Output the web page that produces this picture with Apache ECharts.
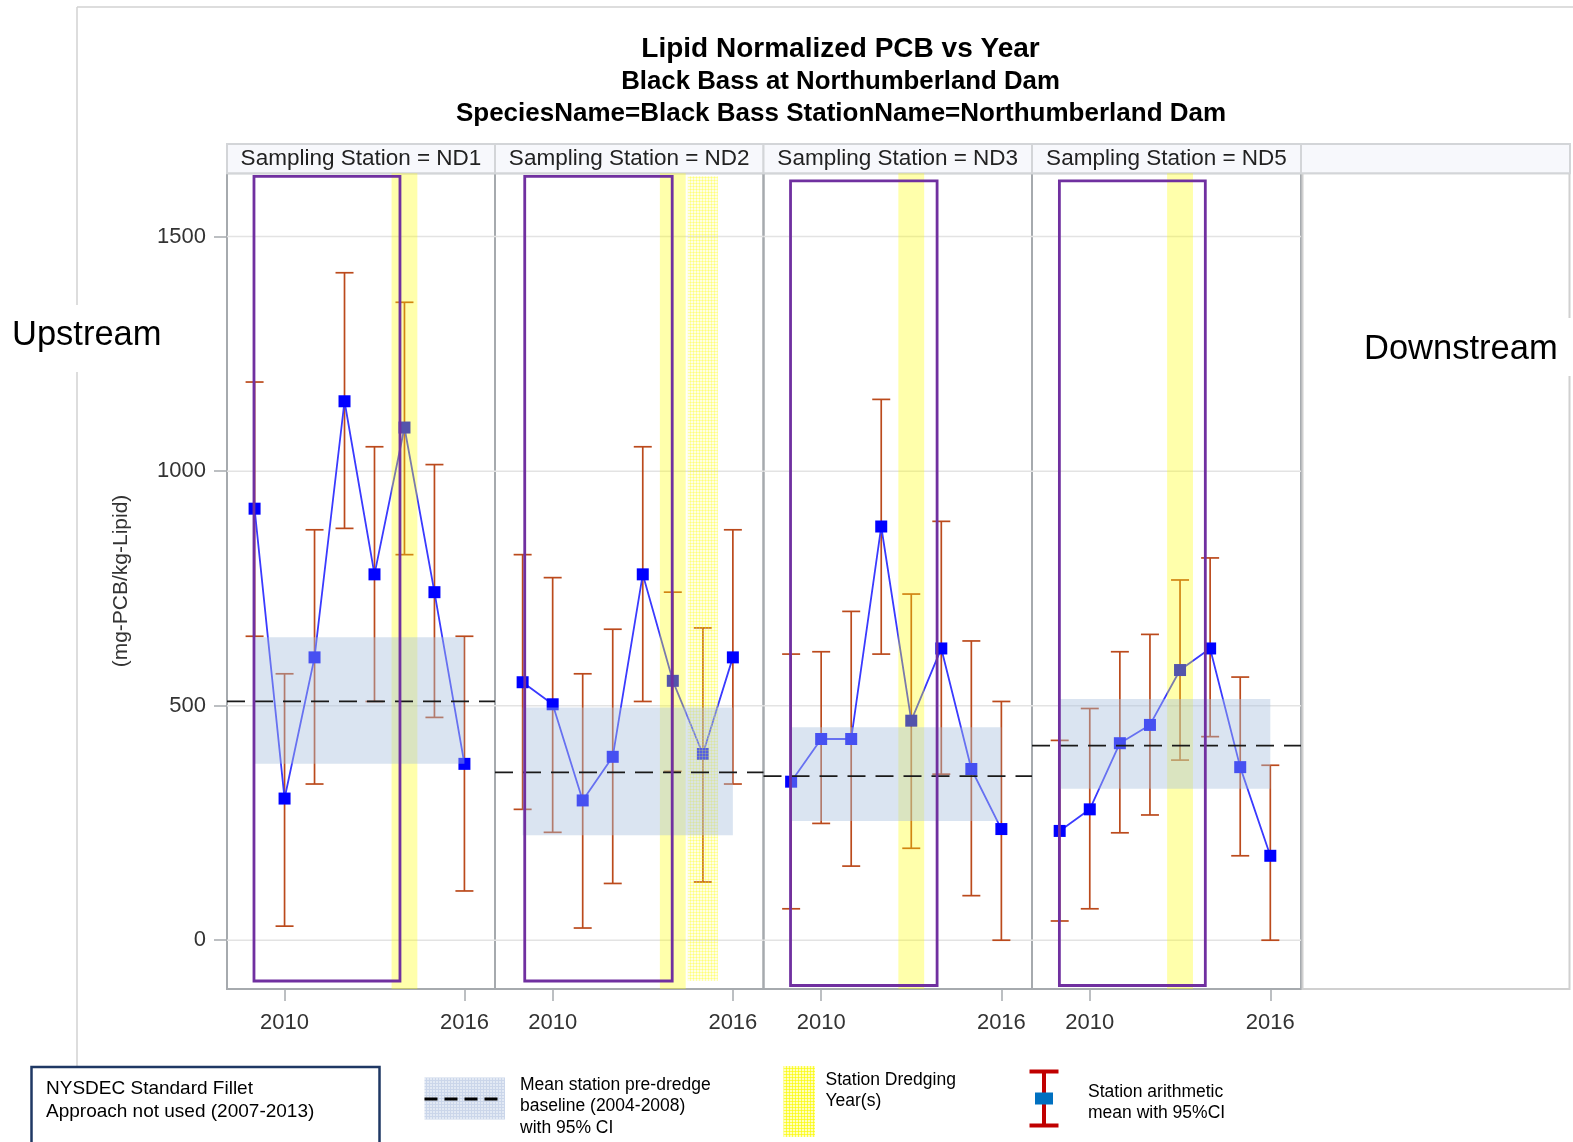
<!DOCTYPE html>
<html><head><meta charset="utf-8">
<script src="https://cdn.jsdelivr.net/npm/echarts@6/dist/echarts.min.js"></script>
<style>html,body{margin:0;padding:0;background:#fff}#c{width:1573px;height:1142px}</style>
</head><body><div id="c"></div><script>
// ---------------- DATA ----------------
const stations = ['ND1', 'ND2', 'ND3', 'ND5'];
const years = [2009, 2010, 2011, 2012, 2013, 2014, 2015, 2016];
const yTicks = [0, 500, 1000, 1500];
const xTicks = [2010, 2016];

const meanND1 = [920, 302, 603, 1149, 780, 1093, 742, 376];
const lowND1  = [648, 30, 333, 878, 509, 822, 475, 105];
const highND1 = [1190, 568, 875, 1423, 1052, 1360, 1014, 648];

const meanND2 = [550, 503, 298, 391, 780, 553, 397, 603];
const lowND2  = [279, 230, 26, 121, 509, 360, 124, 333];
const highND2 = [822, 773, 568, 663, 1052, 742, 666, 875];

const meanND3 = [338, 429, 429, 882, 468, 622, 365, 237];
const lowND3  = [67, 249, 158, 610, 196, 354, 95, 0];
const highND3 = [610, 615, 701, 1153, 738, 893, 638, 509];

const meanND5 = [233, 279, 420, 459, 576, 622, 369, 180];
const lowND5  = [41, 67, 229, 267, 384, 434, 180, 0];
const highND5 = [426, 494, 615, 652, 768, 815, 561, 373];

// pre-dredge baseline (2004-2008) mean with 95% CI, drawn over 2009-2016
const baselineMean = [509, 358, 350, 415];
const baselineLow  = [376, 224, 254, 323];
const baselineHigh = [646, 496, 454, 514];
const baselineSpan = [2009, 2016];

// dredging years per station (solid) and additional (hatched)
const dredgeYears = [[2014], [2014], [2013], [2013]];
const dredgeHatchYears = [[], [2015], [], []];

// "NYSDEC Standard Fillet approach not used" box, year span per station
const fishBoxStart = [2008.98, 2009.07, 2008.98, 2008.99];
const fishBoxEnd   = [2013.85, 2013.98, 2013.86, 2013.84];

const means = [meanND1, meanND2, meanND3, meanND5];
const lows = [lowND1, lowND2, lowND3, lowND5];
const highs = [highND1, highND2, highND3, highND5];

// ---------------- STYLE / LAYOUT ----------------
const FONT = '"Liberation Sans", Arial, sans-serif';
const panelLeft = [227, 495, 763.5, 1032];
const panelWidth = [268, 268.5, 268.5, 269];
const plotTop = 173.3, plotHeight = 815.7;
const xMin = 2008.08, xMax = 2017.02, yMin = -104, yMax = 1635;
const boxInsets = [[3, 8], [3, 8], [7.5, 3.5], [7.5, 3.5]];
const errColor = '#bb4a1c';

function makePattern(base, line, size) {
  const c = document.createElement('canvas');
  c.width = size; c.height = size;
  const g = c.getContext('2d');
  g.fillStyle = base; g.fillRect(0, 0, size, size);
  g.fillStyle = line; g.fillRect(0, 0, size, 1); g.fillRect(0, 0, 1, size);
  return c;
}
const hatchCanvas = makePattern('rgba(255,255,0,0.10)', 'rgba(255,255,0,0.28)', 3);
const legendYellow = makePattern('rgba(255,255,110,0.45)', 'rgba(250,250,0,0.65)', 3);
const legendBlue = makePattern('#e2e9f4', '#cbd6ea', 3);

const grids = [], xAxes = [], yAxes = [], series = [];
stations.forEach((st, i) => {
  grids.push({left: panelLeft[i], top: plotTop, width: panelWidth[i], height: plotHeight,
    show: true, borderColor: '#a6aaae', borderWidth: 2, backgroundColor: 'transparent', containLabel: false});
  xAxes.push({type: 'value', gridIndex: i, min: xMin, max: xMax, position: 'bottom',
    axisLine: {show: false, onZero: false}, splitLine: {show: false},
    axisTick: {show: true, customValues: xTicks, length: 12, lineStyle: {color: '#a6aaae', width: 1.5}},
    axisLabel: {show: true, customValues: xTicks, fontSize: 22, color: '#333', fontFamily: FONT, margin: 23,
      formatter: v => String(Math.round(v))}});
  yAxes.push({type: 'value', gridIndex: i, min: yMin, max: yMax, position: 'left',
    axisLine: {show: false, onZero: false}, splitLine: {show: false},
    axisTick: {show: i === 0, customValues: yTicks, length: 13, lineStyle: {color: '#a6aaae', width: 1.5}},
    axisLabel: {show: i === 0, customValues: yTicks, fontSize: 22, color: '#333', fontFamily: FONT, margin: 21,
      formatter: v => String(Math.round(v))}});

  const axisRef = {xAxisIndex: i, yAxisIndex: i};
  // grid lines
  series.push(Object.assign({type: 'custom', z: 1, silent: true, data: yTicks.map(v => [2012, v]),
    renderItem: (p, api) => {
      const cs = p.coordSys; const y = api.coord([2012, api.value(1)])[1];
      return {type: 'line', shape: {x1: cs.x, y1: y, x2: cs.x + cs.width, y2: y}, style: {stroke: '#e3e3e3', lineWidth: 1.5}};
    }}, axisRef));
  // error bars
  series.push(Object.assign({type: 'custom', z: 2, silent: true,
    data: years.map((y, k) => [y, lows[i][k], highs[i][k]]),
    renderItem: (p, api) => {
      const x = api.value(0);
      const a = api.coord([x, api.value(1)]), b = api.coord([x, api.value(2)]);
      const hw = 9, s = {stroke: errColor, lineWidth: 1.7};
      return {type: 'group', children: [
        {type: 'line', shape: {x1: a[0], y1: a[1], x2: b[0], y2: b[1]}, style: s},
        {type: 'line', shape: {x1: a[0] - hw, y1: a[1], x2: a[0] + hw, y2: a[1]}, style: s},
        {type: 'line', shape: {x1: b[0] - hw, y1: b[1], x2: b[0] + hw, y2: b[1]}, style: s}]};
    }}, axisRef));
  // mean line with markers
  series.push(Object.assign({type: 'line', z: 3, silent: true,
    data: years.map((y, k) => [y, means[i][k]]),
    symbol: 'rect', symbolSize: 12, showSymbol: true,
    itemStyle: {color: '#0000ff'}, lineStyle: {color: '#3a3aff', width: 1.8}}, axisRef));
  // dredging years (solid)
  series.push(Object.assign({type: 'custom', z: 4, silent: true, data: dredgeYears[i].map(y => [y, 0]),
    renderItem: (p, api) => {
      const cs = p.coordSys; const y = api.value(0);
      const a = api.coord([y - 0.43, 0])[0], b = api.coord([y + 0.43, 0])[0];
      return {type: 'rect', shape: {x: a, y: cs.y, width: b - a, height: cs.height}, style: {fill: 'rgba(255,255,0,0.33)'}};
    }}, axisRef));
  // dredging years (hatched)
  series.push(Object.assign({type: 'custom', z: 4, silent: true, data: dredgeHatchYears[i].map(y => [y, 0]),
    renderItem: (p, api) => {
      const cs = p.coordSys; const y = api.value(0);
      const a = api.coord([y - 0.5, 0])[0], b = api.coord([y + 0.5, 0])[0];
      return {type: 'rect', shape: {x: a, y: cs.y + boxInsets[i][0], width: b - a, height: cs.height - boxInsets[i][0] - boxInsets[i][1]},
        style: {fill: {image: hatchCanvas, repeat: 'repeat'}}};
    }}, axisRef));
  // baseline CI band
  series.push(Object.assign({type: 'custom', z: 5, silent: true,
    data: [[baselineSpan[0], baselineSpan[1], baselineLow[i], baselineHigh[i]]],
    renderItem: (p, api) => {
      const a = api.coord([api.value(0), api.value(3)]), b = api.coord([api.value(1), api.value(2)]);
      return {type: 'rect', shape: {x: a[0], y: a[1], width: b[0] - a[0], height: b[1] - a[1]}, style: {fill: 'rgba(168,190,221,0.42)'}};
    }}, axisRef));
  // baseline mean dashed line
  series.push(Object.assign({type: 'custom', z: 6, silent: true, data: [[2012, baselineMean[i]]],
    renderItem: (p, api) => {
      const cs = p.coordSys; const y = api.coord([2012, api.value(1)])[1];
      return {type: 'line', shape: {x1: cs.x, y1: y, x2: cs.x + cs.width, y2: y},
        style: {stroke: '#1a1a1a', lineWidth: 1.7, lineDash: [18, 10]}};
    }}, axisRef));
  // fillet approach box
  series.push(Object.assign({type: 'custom', z: 7, silent: true, data: [[fishBoxStart[i], fishBoxEnd[i]]],
    renderItem: (p, api) => {
      const cs = p.coordSys;
      const a = api.coord([api.value(0), 0])[0], b = api.coord([api.value(1), 0])[0];
      return {type: 'rect', shape: {x: a, y: cs.y + boxInsets[i][0], width: b - a, height: cs.height - boxInsets[i][0] - boxInsets[i][1]},
        style: {fill: 'none', stroke: '#7030a0', lineWidth: 2.8}};
    }}, axisRef));
});

// ---------------- GRAPHICS (frame, headers, titles, legend) ----------------
const g = [];
g.push({type: 'line', shape: {x1: 77, y1: 7, x2: 1573, y2: 7}, style: {stroke: '#d2d2d2', lineWidth: 1.5}, z: 0});
g.push({type: 'line', shape: {x1: 77, y1: 7, x2: 77, y2: 1142}, style: {stroke: '#d2d2d2', lineWidth: 1.5}, z: 0});
g.push({type: 'rect', shape: {x: 1302.5, y: 173.3, width: 267, height: 815.7}, style: {fill: 'none', stroke: '#d0d0d0', lineWidth: 2}, z: 0});
const headerX = [227, 495, 763.5, 1032, 1301];
const headerW = [268, 268.5, 268.5, 269, 269];
headerX.forEach((x, k) => {
  g.push({type: 'rect', shape: {x: x, y: 144, width: headerW[k], height: 29.3}, style: {fill: '#f7f8fc', stroke: '#d3d5d8', lineWidth: 2}, z: 1});
  if (k < 4) g.push({type: 'text', x: x + headerW[k] / 2, y: 158.5, z: 2,
    style: {text: 'Sampling Station = ' + stations[k], font: '22.5px ' + FONT, fill: '#222', textAlign: 'center', textVerticalAlign: 'middle'}});
});
g.push({type: 'text', x: 840.5, y: 49.5, style: {text: 'Lipid Normalized PCB vs Year', font: 'bold 28px ' + FONT, fill: '#000', textAlign: 'center', textVerticalAlign: 'middle'}});
g.push({type: 'text', x: 840.5, y: 82, style: {text: 'Black Bass at Northumberland Dam', font: 'bold 25.8px ' + FONT, fill: '#000', textAlign: 'center', textVerticalAlign: 'middle'}});
g.push({type: 'text', x: 841, y: 114, style: {text: 'SpeciesName=Black Bass StationName=Northumberland Dam', font: 'bold 26px ' + FONT, fill: '#000', textAlign: 'center', textVerticalAlign: 'middle'}});
g.push({type: 'text', x: 121, y: 581, rotation: Math.PI / 2, style: {text: '(mg-PCB/kg-Lipid)', font: '21px ' + FONT, fill: '#333', textAlign: 'center', textVerticalAlign: 'middle'}});
g.push({type: 'rect', shape: {x: 0, y: 305, width: 172, height: 67}, style: {fill: '#fff'}, z: 3});
g.push({type: 'text', x: 12, y: 335, z: 4, style: {text: 'Upstream', font: '34.5px ' + FONT, fill: '#000', textAlign: 'left', textVerticalAlign: 'middle'}});
g.push({type: 'rect', shape: {x: 1350, y: 318, width: 223, height: 58}, style: {fill: '#fff'}, z: 3});
g.push({type: 'text', x: 1364, y: 349, z: 4, style: {text: 'Downstream', font: '34.5px ' + FONT, fill: '#000', textAlign: 'left', textVerticalAlign: 'middle'}});
g.push({type: 'rect', shape: {x: 31.5, y: 1067, width: 348, height: 80}, style: {fill: '#fff', stroke: '#1f3864', lineWidth: 2.5}, z: 3});
g.push({type: 'text', x: 46, y: 1089, z: 4, style: {text: 'NYSDEC Standard Fillet', font: '19px ' + FONT, fill: '#000', textAlign: 'left', textVerticalAlign: 'middle'}});
g.push({type: 'text', x: 46, y: 1111.5, z: 4, style: {text: 'Approach not used (2007-2013)', font: '19px ' + FONT, fill: '#000', textAlign: 'left', textVerticalAlign: 'middle'}});
g.push({type: 'rect', shape: {x: 424.5, y: 1077.5, width: 80.5, height: 42}, style: {fill: {image: legendBlue, repeat: 'repeat'}}, z: 3});
g.push({type: 'line', shape: {x1: 424.5, y1: 1099, x2: 500, y2: 1099}, style: {stroke: '#000', lineWidth: 3, lineDash: [13, 7]}, z: 4});
['Mean station pre-dredge', 'baseline (2004-2008)', 'with 95% CI'].forEach((t, k) => {
  g.push({type: 'text', x: 520, y: 1085 + k * 21.5, z: 4, style: {text: t, font: '17.5px ' + FONT, fill: '#000', textAlign: 'left', textVerticalAlign: 'middle'}});
});
g.push({type: 'rect', shape: {x: 783.5, y: 1066, width: 31.5, height: 71}, style: {fill: {image: legendYellow, repeat: 'repeat'}}, z: 3});
['Station Dredging', 'Year(s)'].forEach((t, k) => {
  g.push({type: 'text', x: 825.5, y: 1080.5 + k * 21, z: 4, style: {text: t, font: '17.5px ' + FONT, fill: '#000', textAlign: 'left', textVerticalAlign: 'middle'}});
});
g.push({type: 'line', shape: {x1: 1044, y1: 1071.5, x2: 1044, y2: 1125.5}, style: {stroke: '#c00000', lineWidth: 4}, z: 3});
g.push({type: 'line', shape: {x1: 1029.5, y1: 1071.5, x2: 1058.5, y2: 1071.5}, style: {stroke: '#c00000', lineWidth: 4}, z: 3});
g.push({type: 'line', shape: {x1: 1029.5, y1: 1125.5, x2: 1058.5, y2: 1125.5}, style: {stroke: '#c00000', lineWidth: 4}, z: 3});
g.push({type: 'rect', shape: {x: 1035, y: 1092.5, width: 18, height: 12}, style: {fill: '#0070c0'}, z: 4});
['Station arithmetic', 'mean with 95%CI'].forEach((t, k) => {
  g.push({type: 'text', x: 1088, y: 1092.5 + k * 20.5, z: 4, style: {text: t, font: '17.5px ' + FONT, fill: '#000', textAlign: 'left', textVerticalAlign: 'middle'}});
});

const chart = echarts.init(document.getElementById('c'), null, {renderer: 'canvas'});
chart.setOption({
  animation: false,
  backgroundColor: '#fff',
  grid: grids, xAxis: xAxes, yAxis: yAxes, series: series,
  graphic: {elements: g}
});
</script></body></html>
